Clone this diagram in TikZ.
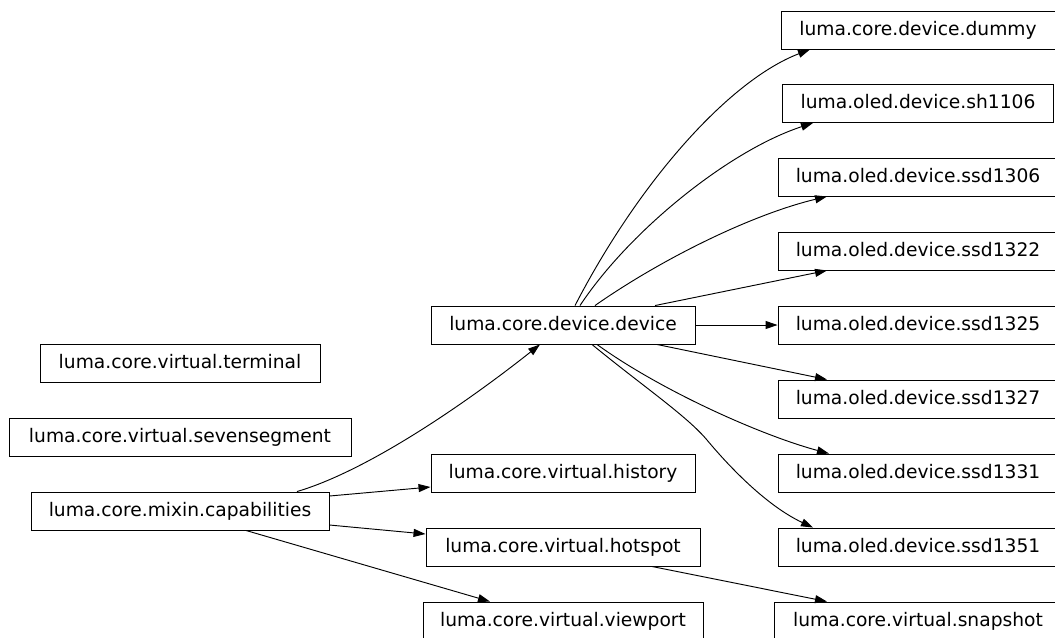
\documentclass[tikz,border=0pt]{standalone}
\usepackage{fontspec}
\setmainfont{DejaVu Sans}
\usetikzlibrary{arrows.meta}

\begin{document}
\begin{tikzpicture}[x=0.75pt,y=-0.75pt,
        box/.style={draw,line width=0.7pt,inner sep=0pt,minimum height=28.5pt,
            text height=10.5pt,text depth=3pt,font=\fontsize{14}{16}\selectfont},
        edge/.style={line width=0.7pt,-{Triangle[length=9pt,width=6pt]}}]
        \useasboundingbox (0,0) rectangle (1055,637);

        % Left column
        \node[box,minimum width=210pt] (terminal) at (180,363) {luma.core.virtual.terminal};
        \node[box,minimum width=256.5pt] (seven) at (180,437) {luma.core.virtual.sevensegment};
        \node[box,minimum width=223.5pt] (cap) at (180,511) {luma.core.mixin.capabilities};

        % Middle column
        \node[box,minimum width=198pt] (dev) at (563,325) {luma.core.device.device};
        \node[box,minimum width=198pt] (hist) at (563,473) {luma.core.virtual.history};
        \node[box,minimum width=205.5pt] (hot) at (563,547) {luma.core.virtual.hotspot};
        \node[box,minimum width=210pt] (view) at (563,621) {luma.core.virtual.viewport};

        % Right column
        \node[box,minimum width=205.5pt] (dummy) at (918,30) {luma.core.device.dummy};
        \node[box,minimum width=203.25pt] (sh) at (918,103.5) {luma.oled.device.sh1106};
        \node[box,minimum width=210pt] (s1306) at (918,177) {luma.oled.device.ssd1306};
        \node[box,minimum width=210pt] (s1322) at (918,251) {luma.oled.device.ssd1322};
        \node[box,minimum width=210pt] (s1325) at (918,325) {luma.oled.device.ssd1325};
        \node[box,minimum width=210pt] (s1327) at (918,399) {luma.oled.device.ssd1327};
        \node[box,minimum width=210pt] (s1331) at (918,473) {luma.oled.device.ssd1331};
        \node[box,minimum width=210pt] (s1351) at (918,547) {luma.oled.device.ssd1351};
        \node[box,minimum width=216pt] (snap) at (918,621) {luma.core.virtual.snapshot};

        % Edges from capabilities
        \draw[edge] (cap.north -| 297,0) .. controls (370,470) and (470,400) .. (dev.south -| 540,0);
        \draw[edge] (cap.east |- 0,496) -- (hist.west |- 0,487);
        \draw[edge] (cap.east |- 0,525) -- (hot.west |- 0,534);
        \draw[edge] (cap.south -| 246,0) -- (view.north -| 490,0);
        \draw[edge] (hot.south -| 652,0) -- (snap.north -| 827,0);

        % Edges from device
        \draw[edge] (dev.north -| 575,0) .. controls (640,180) and (730,80) .. (dummy.south -| 810,0);
        \draw[edge] (dev.north -| 580,0) .. controls (630,230) and (730,150) .. (sh.south -| 813,0);
        \draw[edge] (dev.north -| 595,0) .. controls (660,260) and (750,215) .. (s1306.south -| 827,0);
        \draw[edge] (dev.north -| 655,0) -- (s1322.south -| 827,0);
        \draw[edge] (dev.east) -- (s1325.west);
        \draw[edge] (dev.south -| 657,0) -- (s1327.north -| 827,0);
        \draw[edge] (dev.south -| 597,0) .. controls (660,390) and (760,435) .. (s1331.north -| 829,0);
        \draw[edge] (dev.south -| 592,0) .. controls (640,384) and (687,416) .. (707,440)
            .. controls (727,464) and (765,505) .. (s1351.north -| 813,0);
    \end{tikzpicture}
\end{document}
